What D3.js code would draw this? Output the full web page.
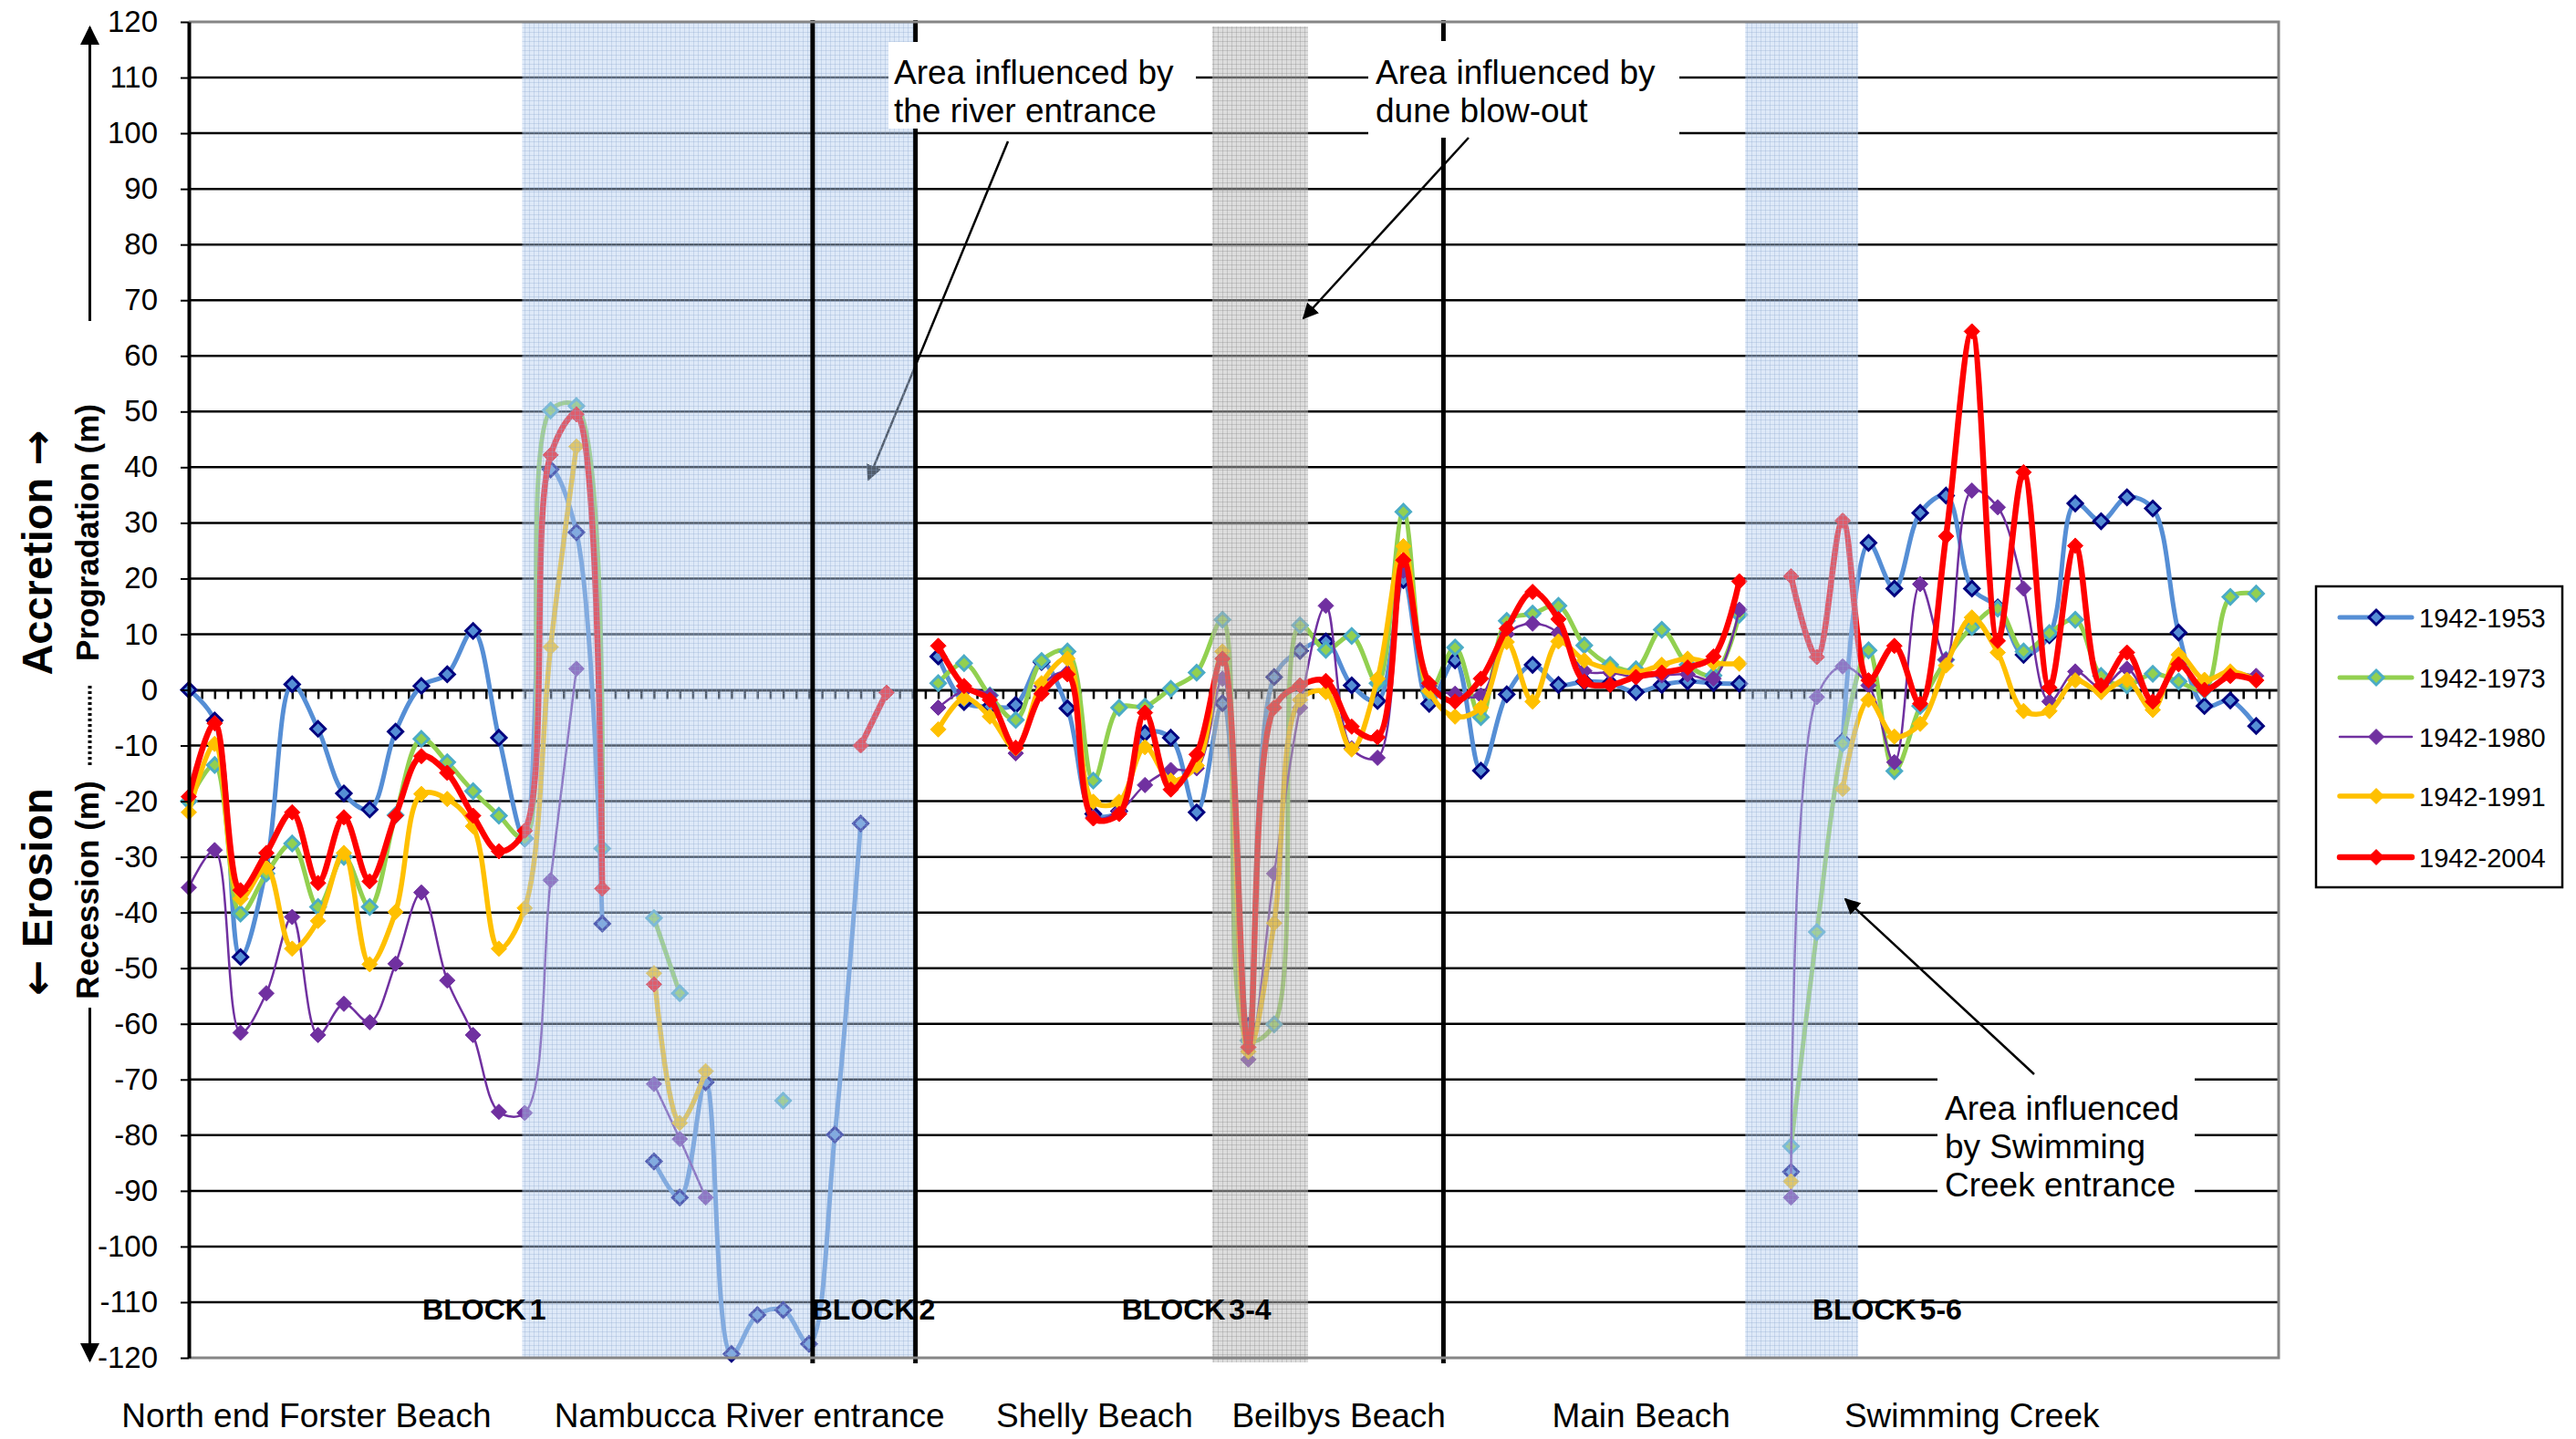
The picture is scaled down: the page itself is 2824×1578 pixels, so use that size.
<!DOCTYPE html>
<html>
<head>
<meta charset="utf-8">
<script src="https://cdn.jsdelivr.net/npm/d3@7"></script>
<style>
  body { margin: 0; background: #fff; }
  text { font-family: "Liberation Sans", Arial, sans-serif; }
</style>
</head>
<body>
<svg id="chart" width="2824" height="1578"></svg>
<script>
// Shoreline change per profile, measured against the 1942 shoreline (m).
// Profiles run north to south; null = no measurement for that profile.
const profiles = d3.range(0, 81);

const seriesNames = ["1942-1953", "1942-1973", "1942-1980", "1942-1991", "1942-2004"];

const change1953 = [
  0, -5.5, -48, -32, 1, -7, -18.6, -21.5, -7.5, 0.7,
  2.8, 10.6, -8.6, -26.7, 39.6, 28.3, -42, null, -84.7, -91.2,
  -70.5, -119.3, -112.3, -111.4, -117.5, -79.9, -24, null, null, 6,
  -2.2, -3, -2.7, 5, -3.3, -22.3, -21.8, -7.8, -8.6, -22,
  -2.4, -60.4, 2.3, 7, 8.7, 0.8, -2, 19.7, -2.5, 5.3,
  -14.5, -0.8, 4.5, 0.9, 1.5, 1.2, -0.4, 0.9, 1.5, 1.2,
  1.1, null, -86.6, null, -9.2, 26.4, 18.2, 31.8, 34.9, 18.2,
  14.8, 6.3, 9.8, 33.5, 30.3, 34.6, 32.6, 10.3, -2.9, -1.9,
  -6.5
];
const change1973 = [
  -20, -13.5, -40.2, -33, -27.6, -39, -30, -39, -22.5, -8.8,
  -13, -18.2, -22.6, -26.7, 50.2, 51, -28.5, null, -41, -54.5,
  null, null, null, -73.8, null, null, null, null, null, 1.2,
  4.8, -1, -5.4, 5.2, 6.9, -16.3, -3.2, -3, 0.2, 3.1,
  12.6, -63, -60.1, 11.6, 7.2, 9.7, 1.2, 32, -0.4, 7.6,
  -4.9, 12.4, 13.7, 15.1, 8, 4.5, 3.7, 10.8, 4.5, 2.6,
  13.5, null, -82, -43.5, -9.6, 7.1, -14.6, -2.9, 5.4, 11.3,
  14.6, 6.9, 10.2, 12.6, 2.5, 0.8, 2.9, 1.5, 0, 16.7,
  17.3
];
const change1980 = [
  -35.5, -28.8, -61.6, -54.5, -40.8, -62, -56.4, -59.7, -49.2, -36.4,
  -52.2, -62, -75.8, -76, -34.2, 3.8, null, null, -70.8, -80.7,
  -91.2, null, null, null, null, null, null, null, null, -3.2,
  -0.2, -1, -11.4, 0.7, 3.1, -22.9, -21.8, -17.1, -14.4, -14.1,
  2, -66.4, -33, -3.2, 15.1, -10.5, -12.2, 21.4, 0.7, -0.7,
  -1, 10, 11.9, 10.2, 3.4, 3.1, 2.3, 2.6, 2.8, 2,
  14.4, null, -91.2, -1.3, 4.2, 0.8, -13, 19, 5.4, 35.8,
  32.8, 18.2, -2.1, 3.3, 0.4, 3.8, -2.1, 5, 0.4, 2.9,
  2.5
];
const change1991 = [
  -22, -9.7, -37.5, -31.9, -46.5, -41.5, -29.3, -49.3, -39.9, -18.7,
  -19.6, -24.5, -46.5, -39.2, 7.7, 43.7, null, null, -50.9, -77.8,
  -68.5, null, null, null, null, null, null, null, null, -7.1,
  -1.5, -4.8, -10.5, 1.2, 5.6, -20.1, -20.1, -10.3, -16.3, -13.6,
  6.9, -65, -41.9, -1.8, -0.4, -10.7, 2, 25.8, -0.2, -4.8,
  -3.2, 8.6, -2.1, 8.7, 5.3, 3.7, 3.1, 4.5, 5.6, 4.8,
  4.7, null, -88.3, null, -17.8, -1.8, -8.4, -6.1, 4.4, 13,
  6.7, -3.8, -3.8, 1.7, -0.4, 1.8, -3.6, 6.3, 1.8, 3.3,
  1.7
];
const change2004 = [
  -19.2, -6, -36, -29.3, -22, -34.7, -22.9, -34.4, -22.6, -11.9,
  -14.9, -22.6, -29, -25.3, 42.2, 49.5, -35.7, null, -52.9, null,
  null, null, null, null, null, null, -10, -0.5, null, 7.9,
  0.7, -1.8, -10.4, -0.7, 2.8, -23.1, -22.3, -4.1, -17.9, -11.6,
  5.6, -64.2, -3.2, 0.8, 1.6, -6.6, -8.5, 23.3, 1.2, -2.1,
  2, 11, 17.6, 12.7, 1.5, 0.9, 2.3, 3.1, 4, 6,
  19.5, null, 20.4, 5.9, 30.4, 1.7, 7.9, -2.5, 27.6, 64.4,
  8.8, 39.1, 0.4, 25.9, 0.8, 6.7, -2.1, 4.6, 0, 2.5,
  1.7
];

const yTicks = d3.range(-120, 121, 10);

const siteNames = ["North end Forster Beach", "Nambucca River entrance", "Shelly Beach",
                   "Beilbys Beach", "Main Beach", "Swimming Creek"];
const siteCentres = [4.55, 21.7, 35.05, 44.5, 56.2, 69.0];

const blockNames = ["BLOCK 1", "BLOCK 2", "BLOCK 3-4", "BLOCK 5-6"];
const blockStarts = [9.04, 24.1, 36.1, 62.83];
const blockDividers = [24.14, 28.12, 48.55];

// shaded reaches: [from, to] in profile units
const entranceZones = [[12.9, 28.17], [60.23, 64.6]];
const blowoutZone = [39.6, 43.31];

// ---------------------------------------------------------------
const svg = d3.select("#chart");
const plot = { left: 207, right: 2498, top: 24, bottom: 1489 };

const x = d3.scaleLinear().domain([0, 80.87]).range([plot.left, plot.right]);
const y = d3.scaleLinear().domain([-120, 120]).range([plot.bottom, plot.top]);

const styles = [
  { line: "#558ed5", width: 5,   fill: "#558ed5", stroke: "#00007f", sw: 3, r: 8 },
  { line: "#92d050", width: 5,   fill: "#92d050", stroke: "#4bacc6", sw: 3, r: 8 },
  { line: "#7030a0", width: 2.5, fill: "#7030a0", stroke: "#7030a0", sw: 1, r: 8.5 },
  { line: "#ffc000", width: 5.5, fill: "#ffc000", stroke: "#ffc000", sw: 1, r: 8.5 },
  { line: "#ff0000", width: 6.5, fill: "#ff0000", stroke: "#ff0000", sw: 1, r: 8.5 }
];
const seriesValues = [change1953, change1973, change1980, change1991, change2004];

const diamond = r => `M0,${-r}L${r},0L0,${r}L${-r},0Z`;

// defs: hatched overlays, arrowhead, clip
const defs = svg.append("defs");
function gridPattern(id, bg, ln) {
  const p = defs.append("pattern").attr("id", id)
    .attr("patternUnits", "userSpaceOnUse").attr("width", 5).attr("height", 5);
  p.append("rect").attr("width", 5).attr("height", 5).attr("fill", bg);
  p.append("path").attr("d", "M0,0.5H5M0.5,0V5").attr("stroke", ln).attr("stroke-width", 1);
}
gridPattern("entranceFill", "rgba(182,206,240,0.45)", "rgba(140,165,205,0.30)");
gridPattern("blowoutFill", "rgba(187,187,187,0.50)", "rgba(130,130,130,0.30)");

defs.append("marker").attr("id", "arrowHead")
  .attr("viewBox", "0 0 10 10").attr("refX", 9).attr("refY", 5)
  .attr("markerWidth", 7).attr("markerHeight", 7).attr("markerUnits", "strokeWidth")
  .attr("orient", "auto")
  .append("path").attr("d", "M0,0L10,5L0,10Z").attr("fill", "#000");

defs.append("clipPath").attr("id", "plotClip")
  .append("rect").attr("x", plot.left).attr("y", plot.top - 4)
  .attr("width", plot.right - plot.left).attr("height", plot.bottom - plot.top + 8);

svg.append("rect").attr("width", 2824).attr("height", 1578).attr("fill", "#fff");

// horizontal gridlines
svg.append("g").selectAll("line")
  .data(yTicks.filter(v => v !== 0 && Math.abs(v) !== 120))
  .join("line")
  .attr("x1", plot.left).attr("x2", plot.right)
  .attr("y1", d => y(d)).attr("y2", d => y(d))
  .attr("stroke", "#000").attr("stroke-width", 2.5);

// category axis along zero
const xAxis = d3.axisBottom(x)
  .tickValues(d3.range(0, 80.51, 0.5))
  .tickSize(10).tickSizeOuter(0).tickFormat("");
const gx = svg.append("g").attr("transform", `translate(0,${y(0)})`).call(xAxis);
gx.select(".domain").attr("stroke", "#000").attr("stroke-width", 3);
gx.selectAll(".tick line").attr("stroke", "#000").attr("stroke-width", 2.5);

// series (smoothed, broken where a profile has no value)
const lineGen = d3.line()
  .defined(d => d[1] !== null)
  .x(d => x(d[0])).y(d => y(d[1]))
  .curve(d3.curveCatmullRom.alpha(0.5));

const seriesLayer = svg.append("g");
seriesValues.forEach((vals, k) => {
  const st = styles[k];
  const pts = profiles.map((p, i) => [p, vals[i]]);
  seriesLayer.append("path")
    .attr("clip-path", "url(#plotClip)")
    .attr("d", lineGen(pts))
    .attr("fill", "none").attr("stroke", st.line)
    .attr("stroke-width", st.width)
    .attr("stroke-linejoin", "round").attr("stroke-linecap", "round");
  seriesLayer.append("g").selectAll("path")
    .data(pts.filter(d => d[1] !== null))
    .join("path")
    .attr("transform", d => `translate(${x(d[0])},${y(d[1])})`)
    .attr("d", diamond(st.r))
    .attr("fill", st.fill).attr("stroke", st.stroke).attr("stroke-width", st.sw);
});

// arrow into the river-entrance reach (sits under the shading)
svg.append("line")
  .attr("x1", 1105).attr("y1", 155).attr("x2", 952).attr("y2", 526)
  .attr("stroke", "#000").attr("stroke-width", 2.5).attr("marker-end", "url(#arrowHead)");

// shaded reaches
svg.append("g").selectAll("rect")
  .data(entranceZones).join("rect")
  .attr("x", d => x(d[0])).attr("width", d => x(d[1]) - x(d[0]))
  .attr("y", plot.top).attr("height", plot.bottom - plot.top)
  .attr("fill", "url(#entranceFill)");
svg.append("rect")
  .attr("x", x(blowoutZone[0])).attr("width", x(blowoutZone[1]) - x(blowoutZone[0]))
  .attr("y", plot.top + 5).attr("height", plot.bottom - plot.top)
  .attr("fill", "url(#blowoutFill)");

// block dividers
svg.append("g").selectAll("line")
  .data(blockDividers).join("line")
  .attr("x1", d => x(d)).attr("x2", d => x(d))
  .attr("y1", plot.top - 2).attr("y2", plot.bottom + 6)
  .attr("stroke", "#000").attr("stroke-width", 5);

// plot frame (top, right, bottom)
svg.append("path")
  .attr("d", `M${plot.left},${plot.top}H${plot.right}V${plot.bottom}H${plot.left}`)
  .attr("fill", "none").attr("stroke", "#868686").attr("stroke-width", 3);

// value axis
const yAxis = d3.axisLeft(y).tickValues(yTicks)
  .tickSize(9).tickSizeOuter(0).tickPadding(25).tickFormat(d => String(d));
const gy = svg.append("g").attr("transform", `translate(${plot.left},0)`).call(yAxis);
gy.select(".domain").attr("stroke", "#000").attr("stroke-width", 4);
gy.selectAll(".tick line").attr("stroke", "#000").attr("stroke-width", 2);
gy.selectAll(".tick text")
  .attr("font-family", "'DejaVu Sans', sans-serif").attr("font-size", 33).attr("fill", "#000");

// axis titles
const titleG = svg.append("g");
function vText(parts, cx, cy, size) {
  const t = titleG.append("text")
    .attr("transform", `translate(${cx},${cy}) rotate(-90)`)
    .attr("text-anchor", "middle")
    .attr("font-size", size).attr("font-weight", "bold");
  parts.forEach(p => {
    const s = t.append("tspan").text(p.t);
    if (p.arrow) s.attr("font-family", "'DejaVu Sans', sans-serif");
  });
}
vText([{ t: "Accretion " }, { t: "\u2192", arrow: true }], 57, 606, 47);
vText([{ t: "\u2190", arrow: true }, { t: " Erosion" }], 57, 978, 47);
vText([{ t: "Progradation (m)" }], 108, 584, 35);
vText([{ t: "Recession (m)" }], 108, 976, 35);

titleG.append("line").attr("x1", 98.5).attr("x2", 98.5).attr("y1", 352).attr("y2", 30)
  .attr("stroke", "#000").attr("stroke-width", 3).attr("marker-end", "url(#arrowHead)");
titleG.append("line").attr("x1", 98.5).attr("x2", 98.5).attr("y1", 1105).attr("y2", 1492)
  .attr("stroke", "#000").attr("stroke-width", 3).attr("marker-end", "url(#arrowHead)");
titleG.append("line").attr("x1", 98.5).attr("x2", 98.5).attr("y1", 752).attr("y2", 840)
  .attr("stroke", "#000").attr("stroke-width", 4).attr("stroke-dasharray", "3,3");

// site names under the chart
svg.append("g").selectAll("text")
  .data(siteNames).join("text")
  .attr("x", (d, i) => x(siteCentres[i])).attr("y", 1565)
  .attr("text-anchor", "middle").attr("font-size", 37)
  .text(d => d);

// block labels
svg.append("g").selectAll("text")
  .data(blockNames).join("text")
  .attr("x", (d, i) => x(blockStarts[i])).attr("y", 1447)
  .attr("font-size", 32).attr("font-weight", "bold").attr("word-spacing", -5)
  .text(d => d);

// annotations
function note(box, lines, lx, baselines) {
  const g = svg.append("g");
  g.append("rect").attr("x", box[0]).attr("y", box[1])
    .attr("width", box[2]).attr("height", box[3]).attr("fill", "#fff");
  lines.forEach((t, i) => g.append("text").attr("x", lx).attr("y", baselines[i])
    .attr("font-size", 37).text(t));
}
note([974, 46, 337, 95], ["Area influenced by", "the river entrance"], 980, [92, 134]);
note([1500, 45, 341, 106], ["Area influenced by", "dune blow-out"], 1508, [92, 134]);
note([2124, 1180, 282, 152], ["Area influenced", "by Swimming", "Creek entrance"], 2132, [1228, 1270, 1312]);

svg.append("line")
  .attr("x1", 1610).attr("y1", 151).attr("x2", 1429).attr("y2", 349)
  .attr("stroke", "#000").attr("stroke-width", 2.5).attr("marker-end", "url(#arrowHead)");
svg.append("line")
  .attr("x1", 2230).attr("y1", 1178).attr("x2", 2023).attr("y2", 986)
  .attr("stroke", "#000").attr("stroke-width", 2.5).attr("marker-end", "url(#arrowHead)");

// legend
const legend = svg.append("g");
legend.append("rect").attr("x", 2539).attr("y", 643).attr("width", 270).attr("height", 330)
  .attr("fill", "#fff").attr("stroke", "#000").attr("stroke-width", 2.5);
const legendRows = [677, 743, 808, 873, 940];
seriesNames.forEach((name, k) => {
  const st = styles[k];
  const ly = legendRows[k];
  legend.append("line").attr("x1", 2565).attr("x2", 2644).attr("y1", ly).attr("y2", ly)
    .attr("stroke", st.line).attr("stroke-width", st.width).attr("stroke-linecap", "round");
  legend.append("path").attr("transform", `translate(2605,${ly})`).attr("d", diamond(st.r))
    .attr("fill", st.fill).attr("stroke", st.stroke).attr("stroke-width", st.sw);
  legend.append("text").attr("x", 2652).attr("y", ly + 11).attr("font-size", 29).text(name);
});
</script>
</body>
</html>
